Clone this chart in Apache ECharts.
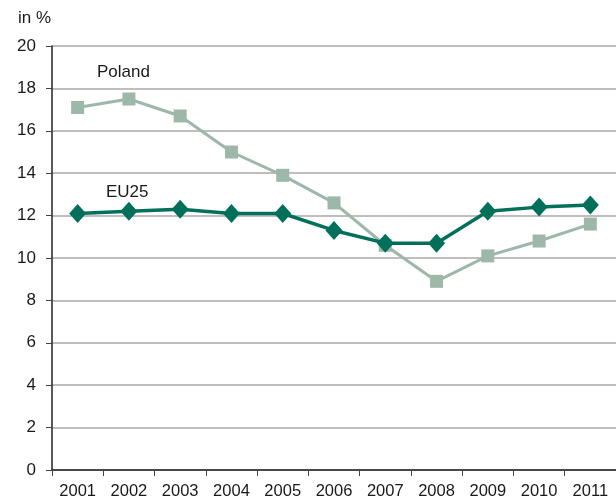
<!DOCTYPE html>
<html>
<head>
<meta charset="utf-8">
<script src="https://cdn.jsdelivr.net/npm/echarts@6/dist/echarts.min.js"></script>
<style>
  html, body { margin: 0; padding: 0; background: #fff; }
  #chart { width: 616px; height: 500px; }
</style>
</head>
<body>
<div id="chart"></div>
<script>
// Unemployment rate, in %
const years = ['2001', '2002', '2003', '2004', '2005', '2006', '2007', '2008', '2009', '2010', '2011'];
const poland = [17.1, 17.5, 16.7, 15.0, 13.9, 12.6, 10.6, 8.9, 10.1, 10.8, 11.6];
const eu25 = [12.1, 12.2, 12.3, 12.1, 12.1, 11.3, 10.7, 10.7, 12.2, 12.4, 12.5];
const yTicks = [0, 2, 4, 6, 8, 10, 12, 14, 16, 18, 20];

const FONT = 'Liberation Sans, Arial, sans-serif';
const chart = echarts.init(document.getElementById('chart'), null, { renderer: 'canvas' });

chart.setOption({
  animation: false,
  backgroundColor: '#ffffff',
  grid: { left: 52, top: 46, bottom: 28, right: -4, containLabel: false },
  xAxis: {
    type: 'category',
    data: years,
    boundaryGap: true,
    axisLine: { lineStyle: { color: '#222', width: 1.5 } },
    axisTick: { show: true, length: 6, lineStyle: { color: '#444', width: 1 } },
    axisLabel: { color: '#1a1a1a', fontSize: 16.5, fontFamily: FONT, margin: 13 },
    splitLine: { show: false }
  },
  yAxis: {
    type: 'value',
    min: yTicks[0],
    max: yTicks[yTicks.length - 1],
    interval: 2,
    axisLine: { show: true, lineStyle: { color: '#222', width: 1.5 } },
    axisTick: { show: true, length: 6, lineStyle: { color: '#444', width: 1 } },
    axisLabel: { color: '#1a1a1a', fontSize: 17, fontFamily: FONT, margin: 16 },
    splitLine: { show: true, lineStyle: { color: '#a8a8a8', width: 1.5 } }
  },
  graphic: [
    { type: 'text', left: 18, top: 10, style: { text: 'in %', fontSize: 17, fontFamily: FONT, fill: '#1a1a1a' } },
    { type: 'text', left: 97, top: 64, style: { text: 'Poland', fontSize: 17, fontFamily: FONT, fill: '#1a1a1a' } },
    { type: 'text', left: 106, top: 184, style: { text: 'EU25', fontSize: 17, fontFamily: FONT, fill: '#1a1a1a' } }
  ],
  series: [
    {
      name: 'Poland',
      type: 'line',
      data: poland,
      symbol: 'rect',
      symbolSize: 13,
      z: 2,
      lineStyle: { color: '#9db8a9', width: 3 },
      itemStyle: { color: '#9db8a9' }
    },
    {
      name: 'EU25',
      type: 'line',
      data: eu25,
      symbol: 'diamond',
      symbolSize: [17, 19],
      z: 3,
      lineStyle: { color: '#00705a', width: 3.5 },
      itemStyle: { color: '#00705a' }
    }
  ]
});
</script>
</body>
</html>
